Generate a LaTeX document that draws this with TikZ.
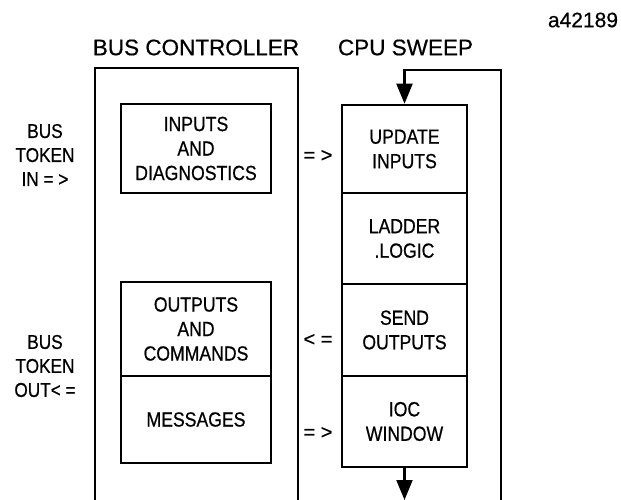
\documentclass[tikz,border=0pt]{standalone}
\usepackage{fontspec}
\setmainfont[FakeBold=0.5]{Liberation Sans}
\newfontfamily\narrowfont[FakeStretch=0.86,FakeBold=0.6]{Liberation Sans}
\usetikzlibrary{arrows.meta}
\begin{document}
\begin{tikzpicture}[x=1pt,y=-1pt,
  box/.style={draw, line width=2.6pt, inner sep=0pt, align=center,
    font=\narrowfont\fontsize{20.5}{24.5}\selectfont},
  sidelbl/.style={align=center, inner sep=0pt,
    font=\narrowfont\fontsize{20}{24}\selectfont},
  flow/.style={inner sep=0pt, font=\fontsize{20}{24}\selectfont},
  title/.style={inner sep=0pt, font=\fontsize{22.5}{26}\selectfont},
  tip/.style={line width=2.2pt, -{Triangle[width=16pt,length=20pt]}}
  ]
\useasboundingbox (0,0) rectangle (621,500);
\fill[white] (0,0) rectangle (621,500);
% titles
\node[title] (tbc) at (196,47.5) {BUS CONTROLLER};
\node[title] (tcpu) at (405.5,47.5) {CPU SWEEP};
\node[inner sep=0pt, font=\fontsize{21}{25}\selectfont] (code) at (583,20) {a42189};
% bus controller outer box
\node[draw, line width=2.6pt, minimum width=203pt, minimum height=452pt, inner sep=0pt] (bc) at (196.5,294) {};
% bus controller inner boxes
\node[box, minimum width=150pt, minimum height=89pt] (inp) at (196,148.5) {INPUTS\\AND\\DIAGNOSTICS};
\node[box, minimum width=150pt, minimum height=94pt] (outc) at (196,329) {OUTPUTS\\AND\\COMMANDS};
\node[box, minimum width=150pt, minimum height=87pt] (msg) at (196,419.5) {MESSAGES};
% cpu sweep column
\node[box, minimum width=125pt, minimum height=88pt] (upd) at (404.5,149) {UPDATE\\INPUTS};
\node[box, minimum width=125pt, minimum height=91pt] (lad) at (404.5,238.5) {LADDER\\.LOGIC};
\node[box, minimum width=125pt, minimum height=92pt] (snd) at (404.5,330) {SEND\\OUTPUTS};
\node[box, minimum width=125pt, minimum height=91pt] (ioc) at (404.5,421.5) {IOC\\WINDOW};
% side labels
\node[sidelbl] (tin) at (45,155) {BUS\\TOKEN\\IN = >};
\node[sidelbl] (tout) at (45,366) {BUS\\TOKEN\\OUT< =};
% flow marks
\node[flow] (f1) at (318,156) {= >};
\node[flow] (f2) at (318,340) {< =};
\node[flow] (f3) at (318,433) {= >};
% loop back
\coordinate (lb) at (501,520);
\coordinate (lt) at (501,70);
\draw[tip] (lb) -- (lt) -| (upd.north);
% exit arrow
\coordinate (bend) at (404.5,500);
\draw[tip] (ioc.south) -- (bend);
\end{tikzpicture}
\end{document}
